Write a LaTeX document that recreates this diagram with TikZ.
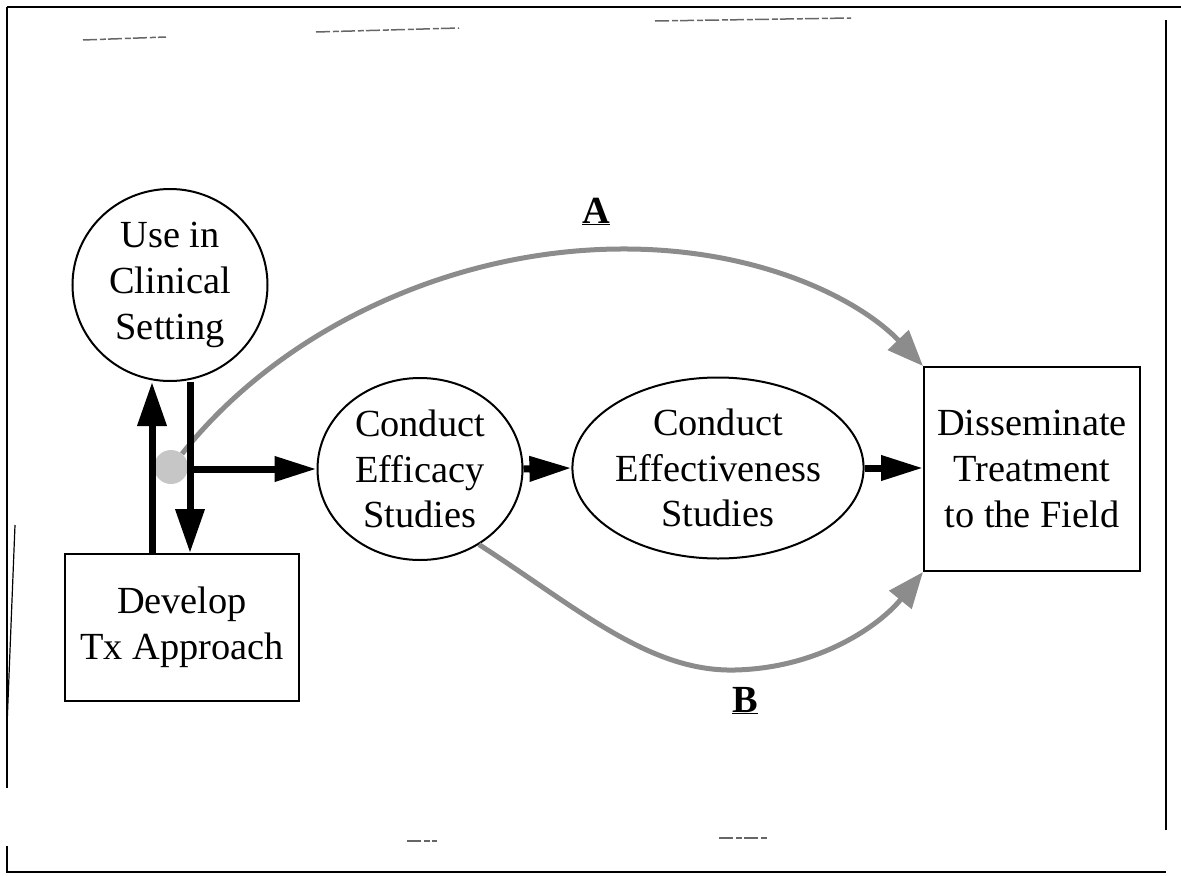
\documentclass[tikz,border=0pt]{standalone}
\usepackage{fontspec}
\setmainfont{Liberation Serif}
\usetikzlibrary{arrows.meta,shapes.geometric}
\begin{document}
\begin{tikzpicture}[x=1bp,y=-1bp,
  txt/.style={font=\fontsize{38.5}{46}\selectfont, align=center, inner sep=0pt},
  boxnode/.style={txt, draw, line width=2bp, rectangle},
  ovalnode/.style={txt, draw, line width=2bp, ellipse},
  vbigarrow/.style={line width=7bp, -{Triangle[length=44bp,width=28bp]}},
  hbigarrow/.style={line width=7bp, -{Triangle[length=42bp,width=24bp]}},
  grayarc/.style={draw=black!45, line width=5bp, -{Triangle[length=36bp,width=28bp]}},
  frameline/.style={line width=2bp},
  scanmark/.style={line width=1.5bp, black!60, dash pattern=on 14bp off 3bp on 6bp off 2bp},
  lbl/.style={txt, font=\fontsize{38.5}{46}\selectfont\bfseries}
]
\useasboundingbox (0,0) rectangle (1181,876);

% frame
\draw[frameline] (7,7) -- (1181,7);
\draw[frameline] (7,7) -- (7,788);
\draw[frameline] (7,846) -- (7,872) -- (1166,872);
\draw[frameline] (1166,20) -- (1166,830);
% scan marks
\draw[scanmark] (83,40) -- (166,37);
\draw[scanmark] (316,32) -- (459,28);
\draw[scanmark] (655,21) -- (851,18);
\draw[scanmark] (407,841) -- (437,841);
\draw[scanmark] (719,838) -- (768,838);
\draw[line width=1.2bp] (15,525) -- (7,726);

% nodes
\node[ovalnode, minimum width=195bp, minimum height=192bp] (use) at (170,285) {Use in\\Clinical\\Setting};
\node[boxnode, minimum width=234bp, minimum height=147bp] (dev) at (182,627.5) {Develop\\Tx Approach};
\node[ovalnode, minimum width=205bp, minimum height=182bp] (eff1) at (420,469) {Conduct\\Efficacy\\Studies};
\node[ovalnode, minimum width=234bp, minimum height=181bp] (eff2) at (718,468) {Conduct\\Effectiveness\\Studies};
\node[boxnode, minimum width=216bp, minimum height=204bp] (diss) at (1032,469) {Disseminate\\Treatment\\to the Field};

\node[circle, fill=gray!45, minimum size=34bp, inner sep=0pt] (dot) at (171,467) {};

\coordinate (upx) at ([xshift=-30bp]dev.north);
\coordinate (dnx) at ([xshift=8bp]dev.north);
\coordinate (junc) at (190,469);

% gray curves
\draw[grayarc] (dot.50) .. controls (280,330) and (450,250) .. (620,249)
  .. controls (760,248) and (860,300) .. (diss.north west);
\draw[grayarc] (eff1.-52) .. controls (580,610) and (650,672) .. (735,670)
  .. controls (820,668) and (880,625) .. (diss.south west);

% black arrows
\draw[vbigarrow] (upx) -- (upx |- use.south);
\draw[vbigarrow] (dnx |- use.south) -- (dnx);
\draw[hbigarrow] (junc) -- (eff1.west);
\draw[hbigarrow] (eff1.east) -- (eff2.west);
\draw[hbigarrow] (eff2.east) -- (diss.west |- eff2.east);

% labels
\node[lbl, anchor=base] (labA) at (596,223) {\underline{A}};
\node[lbl, anchor=base] (labB) at (745,712) {\underline{B}};
\end{tikzpicture}
\end{document}
